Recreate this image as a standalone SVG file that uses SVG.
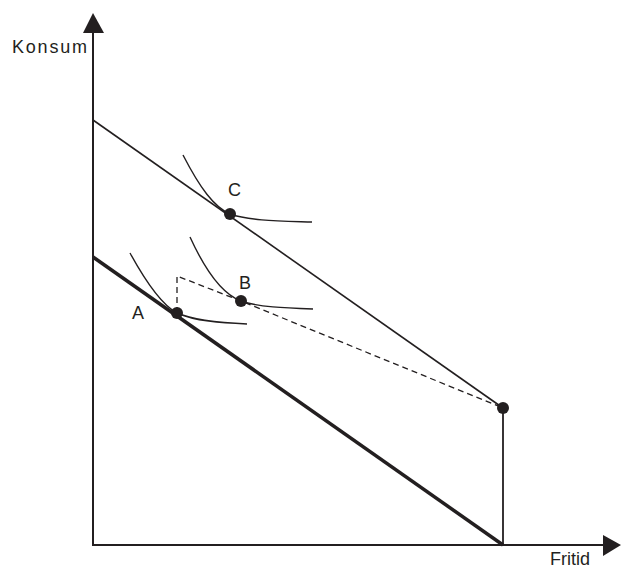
<svg xmlns="http://www.w3.org/2000/svg" width="621" height="570" viewBox="0 0 621 570">
<style>
.t{font-family:"Liberation Sans",Arial,sans-serif;font-size:18px;fill:#231f20}
.ln{stroke:#231f20;fill:none}
.dot{fill:#231f20}
</style>
<rect width="621" height="570" fill="#fff"/>
<g id="axes">
<line class="ln" x1="93" y1="546" x2="93" y2="30" stroke-width="2"/>
<polygon class="dot" points="93,13 83,33 104,33"/>
<line class="ln" x1="92" y1="545" x2="606" y2="545" stroke-width="2"/>
<polygon class="dot" points="621,545 603,535 603,556"/>
<text class="t" x="12" y="53" textLength="75" lengthAdjust="spacing">Konsum</text>
<text class="t" x="550" y="565">Fritid</text>
</g>
<g id="connectors">
<line class="ln" x1="93" y1="120" x2="503" y2="408" stroke-width="1.6"/>
<line class="ln" x1="93" y1="257" x2="503" y2="545" stroke-width="3.5"/>
<line class="ln" x1="503" y1="408" x2="503" y2="545" stroke-width="1.8"/>
<polyline class="ln" points="177,313 177,276 241,301 503,408" stroke-width="1.3" stroke-dasharray="6,4"/>
<path class="ln" d="M183,155 C200,188 214,207 230,214 C250,221 280,221 312,222" stroke-width="1.4"/>
<path class="ln" d="M190,237 C206,272 222,294 241,301 C258,307 285,308 313,309" stroke-width="1.4"/>
<path class="ln" d="M130,253 C147,284 162,305 177,313 C195,321 220,323 247,324" stroke-width="1.4"/>
</g>
<g id="C"><circle class="dot" cx="230" cy="214" r="6"/><text class="t" x="228" y="196">C</text></g>
<g id="B"><circle class="dot" cx="241" cy="301" r="6"/><text class="t" x="239" y="289">B</text></g>
<g id="A"><circle class="dot" cx="177" cy="313" r="6"/><text class="t" x="132" y="319">A</text></g>
<g id="D"><circle class="dot" cx="503" cy="408" r="6"/></g>
</svg>
